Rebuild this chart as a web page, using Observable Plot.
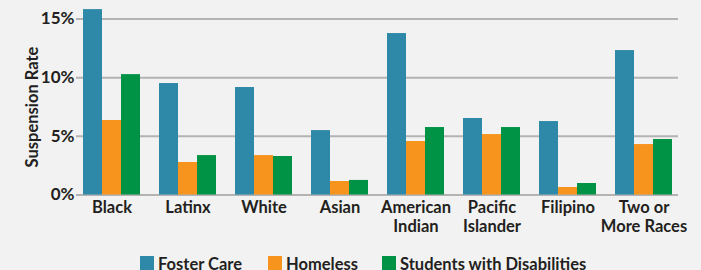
<!DOCTYPE html>
<html>
<head>
<meta charset="utf-8">
<script src="https://cdn.jsdelivr.net/npm/d3@7"></script>
<script src="https://cdn.jsdelivr.net/npm/@observablehq/plot@0.6"></script>
<style>
  html, body { margin: 0; padding: 0; background: #f2f2f2; }
  body { width: 701px; height: 270px; overflow: hidden; font-family: Lato, "Open Sans", sans-serif; color: #231f20; }
  #chart { position: relative; width: 701px; height: 250px; }
  #chart svg { position: absolute; left: 0; top: 0; }
  #legend { position: relative; height: 20px; margin-top: 6px; font-size: 16.5px; font-weight: 700; white-space: nowrap; }
  .item { position: absolute; top: 0; display: flex; align-items: flex-start; }
  .sw { width: 14px; height: 14px; margin-right: 4px; }
  .lab { line-height: 14px; margin-top: 1px; }
</style>
</head>
<body>
<div id="chart"></div>
<div id="legend"></div>
<script>
const categories = ["Black", "Latinx", "White", "Asian", "American\nIndian", "Pacific\nIslander", "Filipino", "Two or\nMore Races"];
const series = ["Foster Care", "Homeless", "Students with Disabilities"];
const colors = ["#2e88a8", "#f7941d", "#009245"];
const fosterCare = [15.8, 9.5, 9.16, 5.49, 13.76, 6.52, 6.26, 12.31];
const homeless = [6.35, 2.77, 3.36, 1.15, 4.56, 5.15, 0.64, 4.30];
const disabilities = [10.26, 3.36, 3.28, 1.24, 5.75, 5.75, 0.98, 4.73];
const yTicks = [0, 5, 10, 15];
const yLabel = "Suspension Rate";

const valuesBySeries = [fosterCare, homeless, disabilities];
const data = [];
categories.forEach((c, i) => {
  series.forEach((s, j) => data.push({category: c, series: s, value: valuesBySeries[j][i]}));
});

const font = "Lato, 'Open Sans', sans-serif";
const common = {
  width: 701,
  height: 250,
  marginLeft: 76,
  marginRight: 23,
  marginTop: 18.5,
  marginBottom: 55.5
};

// gridline layer (no facets, spans full plot width)
const grid = Plot.plot({
  ...common,
  style: {background: "transparent", fontFamily: font},
  y: {domain: [0, 15], axis: null},
  marks: [
    Plot.ruleY(yTicks, {stroke: "#b3b3b3", strokeWidth: 2})
  ]
});

const chart = Plot.plot({
  ...common,
  style: {background: "transparent", fontFamily: font, color: "#231f20", overflow: "visible"},
  y: {domain: [0, 15], label: null},
  fx: {domain: categories, paddingInner: 0.25, paddingOuter: 0.08, label: null},
  x: {domain: series, padding: 0, axis: null},
  color: {domain: series, range: colors},
  marks: [
    Plot.barY(data, {fx: "category", x: "series", y: "value", fill: "series", inset: 0}),
    Plot.axisY({ticks: yTicks, tickFormat: d => d + "%", tickSize: 0, tickPadding: 9,
      fontSize: 17, fontWeight: 700, label: null}),
    Plot.text([yLabel], {text: d => d, frameAnchor: "left", textAnchor: "middle", rotate: -90, dx: -51,
      fontSize: 16.5, fontWeight: 700, fill: "#231f20", facet: "super"}),
    Plot.axisFx({anchor: "bottom", tickSize: 0, tickPadding: 4, fontSize: 16.5, fontWeight: 700,
      lineHeight: 1.18, label: null})
  ]
});
const holder = document.getElementById("chart");
holder.appendChild(grid);
holder.appendChild(chart);

const legend = document.getElementById("legend");
const lefts = [140, 268, 382];
series.forEach((s, i) => {
  const it = document.createElement("div");
  it.className = "item";
  it.style.left = lefts[i] + "px";
  it.innerHTML = `<div class="sw" style="background:${colors[i]}"></div><div class="lab">${s}</div>`;
  legend.appendChild(it);
});
</script>
</body>
</html>
